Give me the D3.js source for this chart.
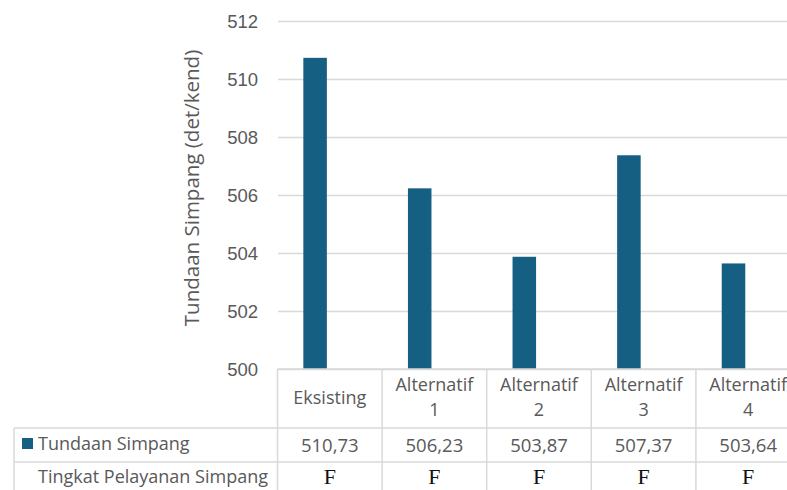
<!DOCTYPE html>
<html><head><meta charset="utf-8">
<script src="https://cdn.jsdelivr.net/npm/d3@7"></script>
<style>body{margin:0;background:#fff}svg{display:block}</style>
</head><body>
<script>
const categories = [["Eksisting"],["Alternatif","1"],["Alternatif","2"],["Alternatif","3"],["Alternatif","4"]];
const categoryKeys = ["Eksisting","Alternatif 1","Alternatif 2","Alternatif 3","Alternatif 4"];
const tundaan = [510.73, 506.23, 503.87, 507.37, 503.64];
const tundaanLabels = ["510,73","506,23","503,87","507,37","503,64"];
const pelayanan = ["F","F","F","F","F"];
const yTicks = [500,502,504,506,508,510,512];
const seriesName = "Tundaan Simpang";
const row2Name = "Tingkat Pelayanan Simpang";
const yTitle = "Tundaan Simpang (det/kend)";

const W = 787, H = 490;
const svg = d3.select("body").append("svg").attr("width", W).attr("height", H);
const grey = "#595959", lineC = "#d9d9d9", barC = "#156082";
const sans = "'Open Sans', 'Liberation Sans', sans-serif";

const x = d3.scaleBand().domain(categoryKeys).range([277.5, 277.5 + 5*104.6]).padding(0);
const y = d3.scaleLinear().domain([500, 512]).range([369, 21]);
const bw = x.bandwidth();

// gridlines
svg.append("g").selectAll("line").data(yTicks).join("line")
  .attr("x1", 278).attr("x2", W).attr("y1", d => Math.round(y(d)) + 0.5).attr("y2", d => Math.round(y(d)) + 0.5)
  .attr("stroke", lineC).attr("stroke-width", 1.3);

// y tick labels
svg.append("g").selectAll("text").data(yTicks).join("text")
  .attr("x", 258).attr("y", d => y(d)).attr("dy", "0.36em").attr("text-anchor", "end")
  .attr("font-family", "'Liberation Sans', Arial, sans-serif").attr("font-size", 18.5).attr("fill", grey)
  .text(d => d);

// y title
svg.append("text").attr("transform", "translate(199,188) rotate(-90)").attr("text-anchor", "middle")
  .attr("font-family", sans).attr("font-size", 20.5).attr("fill", grey).text(yTitle);

// bars
svg.append("g").selectAll("rect").data(tundaan).join("rect")
  .attr("x", (d,i) => x(categoryKeys[i]) + bw*0.247).attr("width", bw*0.225)
  .attr("y", d => y(d)).attr("height", d => y(500) - y(d)).attr("fill", barC);

// table
const tTop = 369, r1 = 428, r2 = 462, tBot = 500, tLeft = 14;
const tg = svg.append("g").attr("stroke", lineC).attr("stroke-width", 1.5);
tg.append("line").attr("x1", x.range()[0]).attr("x2", W).attr("y1", tTop).attr("y2", tTop);
tg.append("line").attr("x1", tLeft).attr("x2", W).attr("y1", r1).attr("y2", r1);
tg.append("line").attr("x1", tLeft).attr("x2", W).attr("y1", r2).attr("y2", r2);
tg.append("line").attr("x1", tLeft).attr("x2", tLeft).attr("y1", r1).attr("y2", tBot);
tg.selectAll(".v").data(categoryKeys.concat(["end"])).join("line")
  .attr("x1", (d,i) => x.range()[0] + i*bw).attr("x2", (d,i) => x.range()[0] + i*bw)
  .attr("y1", tTop).attr("y2", tBot);

// category labels
const cl = svg.append("g").attr("font-family", sans).attr("font-size", 18).attr("fill", grey).attr("text-anchor", "middle");
categories.forEach((lines, i) => {
  const cx = x(categoryKeys[i]) + bw/2;
  const t = cl.append("text").attr("x", cx);
  if (lines.length === 1) {
    t.attr("y", 398).attr("dy", "0.36em").text(lines[0]);
  } else {
    lines.forEach((s, j) => t.append("tspan").attr("x", cx).attr("y", 385 + j*25).attr("dy", "0.36em").text(s));
  }
});

// values row
svg.append("g").selectAll("text").data(tundaanLabels).join("text")
  .attr("x", (d,i) => x(categoryKeys[i]) + bw/2).attr("y", 445).attr("dy", "0.36em").attr("text-anchor", "middle")
  .attr("font-family", sans).attr("font-size", 18.5).attr("fill", grey).text(d => d);

// F row
svg.append("g").selectAll("text").data(pelayanan).join("text")
  .attr("x", (d,i) => x(categoryKeys[i]) + bw/2).attr("y", 476).attr("dy", "0.36em").attr("text-anchor", "middle")
  .attr("font-family", "'Liberation Serif', 'Times New Roman', serif").attr("font-size", 22).attr("fill", "#111").text(d => d);

// legend / row headers
svg.append("rect").attr("x", 22).attr("y", 438).attr("width", 11).attr("height", 11).attr("fill", barC);
svg.append("text").attr("x", 38).attr("y", 444).attr("dy", "0.36em").attr("font-family", sans).attr("font-size", 18).attr("fill", grey).text(seriesName);
svg.append("text").attr("x", 38).attr("y", 477).attr("dy", "0.36em").attr("font-family", sans).attr("font-size", 18).attr("fill", grey).text(row2Name);
</script>
</body></html>
